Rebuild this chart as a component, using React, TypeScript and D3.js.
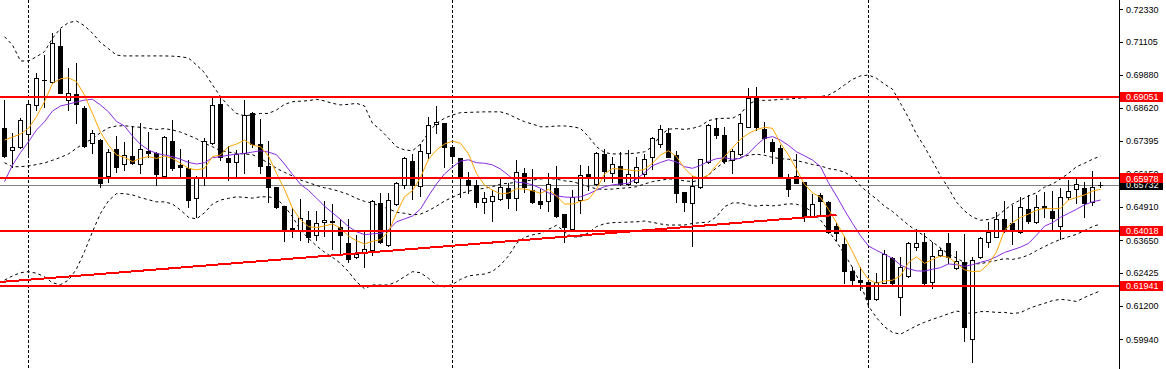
import React from 'react';
import * as d3 from 'd3';

const OPEN = [0.6788,0.6704,0.6717,0.6764,0.6874,0.6966,0.6959,0.7095,0.6892,0.6914,
0.6864,0.6730,0.6742,0.6608,0.6708,0.6651,0.6682,0.6651,0.6701,0.6692,
0.6608,0.6738,0.6648,0.6638,0.6523,0.6604,0.6730,0.6876,0.6676,0.6658,
0.6692,0.6842,0.6727,0.6646,0.6565,0.6494,0.6413,0.6404,0.6442,0.6384,
0.6433,0.6439,0.6417,0.6354,0.6302,0.6317,0.6329,0.6507,0.6348,0.6501,
0.6573,0.6663,0.6569,0.6695,0.6801,0.6807,0.6717,0.6675,0.6592,0.6573,
0.6508,0.6513,0.6520,0.6561,0.6523,0.6617,0.6554,0.6513,0.6514,0.6561,
0.6464,0.6408,0.6517,0.6615,0.6577,0.6690,0.6617,0.6645,0.6576,0.6586,
0.6613,0.6677,0.6727,0.6767,0.6686,0.6546,0.6504,0.6565,0.6661,0.6787,
0.6761,0.6667,0.6689,0.6792,0.6901,0.6784,0.6734,0.6711,0.6596,0.6607,
0.6586,0.6457,0.6536,0.6510,0.6420,0.6352,0.6250,0.6216,0.6208,0.6145,
0.6206,0.6298,0.6152,0.6232,0.6342,0.6358,0.6210,0.6310,0.6354,0.6263,
0.6283,0.5994,0.6302,0.6360,0.6379,0.6446,0.6429,0.6396,0.6482,0.6433,
0.6494,0.6476,0.6420,0.6529,0.6557,0.6561,0.6510,0.6574];

const HIGH = [0.6892,0.6767,0.6825,0.6892,0.6995,0.7061,0.7143,0.7158,0.7011,0.7030,
0.6870,0.6780,0.6746,0.6708,0.6757,0.6736,0.6795,0.6805,0.6771,0.6698,
0.6757,0.6817,0.6708,0.6667,0.6607,0.6749,0.6905,0.6907,0.6721,0.6705,
0.6892,0.6848,0.6821,0.6738,0.6567,0.6494,0.6486,0.6520,0.6477,0.6476,
0.6513,0.6501,0.6446,0.6446,0.6386,0.6398,0.6517,0.6544,0.6544,0.6586,
0.6680,0.6689,0.6726,0.6827,0.6870,0.6807,0.6717,0.6675,0.6621,0.6592,
0.6548,0.6554,0.6595,0.6582,0.6667,0.6638,0.6633,0.6557,0.6617,0.6645,
0.6464,0.6554,0.6648,0.6645,0.6697,0.6707,0.6680,0.6696,0.6705,0.6680,
0.6690,0.6755,0.6798,0.6788,0.6702,0.6546,0.6608,0.6670,0.6802,0.6824,
0.6792,0.6707,0.6839,0.6939,0.6942,0.6809,0.6746,0.6723,0.6613,0.6690,
0.6586,0.6538,0.6544,0.6513,0.6432,0.6382,0.6266,0.6266,0.6208,0.6244,
0.6329,0.6304,0.6304,0.6358,0.6407,0.6392,0.6358,0.6335,0.6394,0.6324,
0.6388,0.6304,0.6377,0.6435,0.6473,0.6513,0.6498,0.6529,0.6536,0.6536,
0.6548,0.6552,0.6563,0.6592,0.6596,0.6586,0.6626,0.6586];

const LOW = [0.6678,0.6642,0.6712,0.6686,0.6855,0.6867,0.6955,0.6918,0.6855,0.6807,
0.6717,0.6692,0.6565,0.6586,0.6623,0.6630,0.6651,0.6617,0.6680,0.6573,
0.6604,0.6630,0.6598,0.6492,0.6454,0.6573,0.6727,0.6667,0.6592,0.6604,
0.6619,0.6717,0.6619,0.6510,0.6486,0.6364,0.6377,0.6367,0.6360,0.6367,
0.6382,0.6332,0.6317,0.6285,0.6298,0.6266,0.6310,0.6354,0.6345,0.6498,
0.6563,0.6521,0.6532,0.6673,0.6767,0.6640,0.6655,0.6527,0.6544,0.6492,
0.6467,0.6439,0.6517,0.6486,0.6479,0.6548,0.6504,0.6486,0.6477,0.6454,
0.6360,0.6404,0.6467,0.6554,0.6573,0.6588,0.6586,0.6573,0.6573,0.6582,
0.6604,0.6632,0.6717,0.6677,0.6510,0.6477,0.6344,0.6561,0.6657,0.6749,
0.6655,0.6619,0.6686,0.6790,0.6780,0.6698,0.6655,0.6602,0.6533,0.6580,
0.6439,0.6454,0.6457,0.6392,0.6367,0.6204,0.6198,0.6179,0.6123,0.6141,
0.6204,0.6198,0.6085,0.6229,0.6329,0.6198,0.6185,0.6307,0.6279,0.6259,
0.5989,0.5910,0.6298,0.6342,0.6377,0.6398,0.6351,0.6392,0.6429,0.6429,
0.6454,0.6404,0.6369,0.6521,0.6504,0.6452,0.6498,0.6565];

const CLOSE = [0.6683,0.6716,0.6817,0.6876,0.6974,0.6968,0.7105,0.6920,0.6918,0.6876,
0.6721,0.6767,0.6580,0.6696,0.6642,0.6686,0.6657,0.6707,0.6692,0.6613,
0.6755,0.6638,0.6642,0.6517,0.6604,0.6740,0.6874,0.6677,0.6658,0.6690,
0.6836,0.6726,0.6646,0.6567,0.6492,0.6404,0.6404,0.6448,0.6377,0.6429,
0.6441,0.6433,0.6384,0.6294,0.6313,0.6332,0.6513,0.6360,0.6517,0.6580,
0.6675,0.6573,0.6701,0.6798,0.6809,0.6715,0.6683,0.6604,0.6573,0.6510,
0.6523,0.6532,0.6565,0.6523,0.6623,0.6565,0.6510,0.6501,0.6576,0.6457,
0.6417,0.6529,0.6611,0.6602,0.6692,0.6627,0.6652,0.6577,0.6613,0.6640,
0.6670,0.6749,0.6782,0.6680,0.6544,0.6508,0.6571,0.6670,0.6797,0.6762,
0.6664,0.6702,0.6805,0.6899,0.6790,0.6749,0.6702,0.6604,0.6557,0.6582,
0.6457,0.6502,0.6514,0.6398,0.6392,0.6251,0.6216,0.6210,0.6145,0.6210,
0.6313,0.6206,0.6266,0.6354,0.6354,0.6206,0.6307,0.6329,0.6302,0.6289,
0.6041,0.6292,0.6373,0.6396,0.6446,0.6404,0.6404,0.6492,0.6438,0.6492,
0.6486,0.6451,0.6527,0.6551,0.6577,0.6504,0.6565,0.6573];

const MA_FAST = [0.6742,0.6753,0.6765,0.6786,0.6830,0.6886,0.6955,0.6972,0.6976,0.6961,
0.6911,0.6842,0.6771,0.6723,0.6686,0.6677,0.6661,0.6673,0.6680,0.6673,
0.6682,0.6673,0.6655,0.6636,0.6630,0.6636,0.6680,0.6686,0.6717,0.6727,
0.6742,0.6723,0.6717,0.6682,0.6617,0.6557,0.6486,0.6442,0.6417,0.6413,
0.6420,0.6427,0.6411,0.6382,0.6364,0.6352,0.6362,0.6368,0.6398,0.6467,
0.6529,0.6552,0.6602,0.6670,0.6705,0.6727,0.6738,0.6730,0.6690,0.6617,
0.6573,0.6554,0.6540,0.6543,0.6559,0.6558,0.6552,0.6542,0.6557,0.6532,
0.6502,0.6502,0.6512,0.6520,0.6557,0.6615,0.6635,0.6633,0.6630,0.6626,
0.6632,0.6655,0.6686,0.6702,0.6680,0.6636,0.6607,0.6598,0.6611,0.6648,
0.6680,0.6713,0.6745,0.6767,0.6781,0.6790,0.6786,0.6730,0.6686,0.6632,
0.6576,0.6544,0.6527,0.6482,0.6432,0.6379,0.6323,0.6261,0.6219,0.6204,
0.6213,0.6216,0.6232,0.6282,0.6304,0.6279,0.6294,0.6307,0.6302,0.6279,
0.6255,0.6248,0.6250,0.6277,0.6322,0.6404,0.6432,0.6452,0.6464,0.6479,
0.6486,0.6484,0.6486,0.6517,0.6527,0.6536,0.6551,0.6557];

const MA_SLOW = [0.6586,0.6648,0.6695,0.6736,0.6780,0.6811,0.6851,0.6870,0.6877,0.6885,
0.6892,0.6895,0.6874,0.6848,0.6812,0.6795,0.6757,0.6726,0.6705,0.6692,
0.6686,0.6680,0.6670,0.6658,0.6652,0.6657,0.6676,0.6680,0.6685,0.6689,
0.6692,0.6697,0.6702,0.6697,0.6687,0.6652,0.6613,0.6576,0.6553,0.6524,
0.6494,0.6469,0.6444,0.6417,0.6398,0.6387,0.6390,0.6392,0.6405,0.6435,
0.6446,0.6457,0.6483,0.6532,0.6577,0.6615,0.6641,0.6663,0.6668,0.6657,
0.6655,0.6649,0.6633,0.6610,0.6584,0.6581,0.6574,0.6561,0.6544,0.6533,
0.6528,0.6527,0.6529,0.6540,0.6554,0.6567,0.6574,0.6577,0.6580,0.6596,
0.6619,0.6646,0.6658,0.6668,0.6660,0.6642,0.6636,0.6647,0.6662,0.6672,
0.6676,0.6670,0.6673,0.6692,0.6723,0.6749,0.6755,0.6742,0.6722,0.6698,
0.6683,0.6667,0.6642,0.6582,0.6532,0.6479,0.6429,0.6383,0.6344,0.6328,
0.6313,0.6298,0.6273,0.6259,0.6251,0.6250,0.6257,0.6263,0.6277,0.6274,
0.6268,0.6274,0.6283,0.6291,0.6304,0.6320,0.6330,0.6340,0.6354,0.6385,
0.6419,0.6432,0.6452,0.6467,0.6482,0.6499,0.6510,0.6517];

const BB_UPPER = [0.7130,0.7099,0.7039,0.7039,0.7055,0.7074,0.7124,0.7162,0.7183,0.7189,
0.7171,0.7143,0.7108,0.7085,0.7061,0.7058,0.7058,0.7058,0.7058,0.7058,
0.7058,0.7057,0.7055,0.7050,0.7024,0.6995,0.6949,0.6905,0.6870,0.6842,
0.6833,0.6837,0.6842,0.6842,0.6855,0.6876,0.6886,0.6888,0.6890,0.6895,
0.6889,0.6880,0.6874,0.6876,0.6880,0.6870,0.6805,0.6780,0.6749,0.6717,
0.6705,0.6702,0.6727,0.6770,0.6805,0.6824,0.6836,0.6845,0.6846,0.6847,
0.6848,0.6848,0.6848,0.6839,0.6824,0.6811,0.6802,0.6792,0.6792,0.6795,
0.6795,0.6792,0.6786,0.6755,0.6717,0.6695,0.6690,0.6690,0.6691,0.6693,
0.6698,0.6717,0.6761,0.6783,0.6785,0.6782,0.6786,0.6795,0.6815,0.6822,
0.6824,0.6824,0.6840,0.6877,0.6891,0.6891,0.6892,0.6895,0.6896,0.6899,
0.6900,0.6903,0.6905,0.6911,0.6927,0.6949,0.6970,0.6983,0.6986,0.6974,
0.6952,0.6933,0.6880,0.6826,0.6764,0.6717,0.6663,0.6608,0.6561,0.6509,
0.6476,0.6453,0.6441,0.6444,0.6454,0.6479,0.6502,0.6517,0.6532,0.6544,
0.6565,0.6577,0.6596,0.6617,0.6642,0.6655,0.6670,0.6682];

const BB_MIDDLE = [0.6657,0.6642,0.6642,0.6645,0.6650,0.6656,0.6666,0.6677,0.6690,0.6711,
0.6732,0.6746,0.6770,0.6788,0.6795,0.6796,0.6792,0.6790,0.6786,0.6782,
0.6785,0.6780,0.6772,0.6760,0.6747,0.6730,0.6717,0.6702,0.6697,0.6692,
0.6690,0.6687,0.6673,0.6655,0.6636,0.6621,0.6607,0.6592,0.6582,0.6572,
0.6563,0.6557,0.6548,0.6538,0.6523,0.6512,0.6505,0.6494,0.6484,0.6471,
0.6467,0.6461,0.6464,0.6477,0.6494,0.6513,0.6527,0.6541,0.6550,0.6557,
0.6561,0.6567,0.6577,0.6580,0.6583,0.6588,0.6592,0.6596,0.6598,0.6595,
0.6589,0.6586,0.6577,0.6567,0.6559,0.6557,0.6558,0.6561,0.6563,0.6567,
0.6577,0.6586,0.6591,0.6596,0.6595,0.6589,0.6586,0.6592,0.6611,0.6638,
0.6660,0.6667,0.6677,0.6685,0.6689,0.6685,0.6677,0.6672,0.6670,0.6665,
0.6658,0.6650,0.6645,0.6635,0.6630,0.6622,0.6603,0.6570,0.6543,0.6521,
0.6494,0.6474,0.6448,0.6423,0.6401,0.6382,0.6359,0.6337,0.6314,0.6299,
0.6282,0.6277,0.6278,0.6284,0.6290,0.6297,0.6294,0.6300,0.6310,0.6327,
0.6342,0.6357,0.6369,0.6379,0.6388,0.6402,0.6417,0.6427];

const BB_LOWER = [0.6216,0.6232,0.6244,0.6248,0.6242,0.6229,0.6206,0.6199,0.6216,0.6258,
0.6323,0.6398,0.6467,0.6514,0.6541,0.6541,0.6536,0.6526,0.6518,0.6510,
0.6510,0.6502,0.6479,0.6452,0.6446,0.6469,0.6502,0.6517,0.6523,0.6529,
0.6527,0.6524,0.6529,0.6529,0.6522,0.6494,0.6454,0.6404,0.6373,0.6345,
0.6321,0.6302,0.6279,0.6248,0.6210,0.6184,0.6198,0.6198,0.6198,0.6210,
0.6229,0.6248,0.6244,0.6223,0.6198,0.6191,0.6200,0.6219,0.6232,0.6236,
0.6239,0.6249,0.6273,0.6307,0.6354,0.6377,0.6386,0.6392,0.6407,0.6422,
0.6398,0.6378,0.6379,0.6394,0.6417,0.6428,0.6432,0.6433,0.6434,0.6435,
0.6438,0.6433,0.6427,0.6423,0.6423,0.6423,0.6429,0.6432,0.6434,0.6454,
0.6492,0.6506,0.6506,0.6498,0.6494,0.6498,0.6495,0.6498,0.6503,0.6501,
0.6492,0.6471,0.6442,0.6401,0.6360,0.6314,0.6263,0.6204,0.6119,0.6075,
0.6041,0.6020,0.6013,0.6029,0.6045,0.6058,0.6069,0.6079,0.6090,0.6100,
0.6094,0.6091,0.6098,0.6098,0.6095,0.6095,0.6091,0.6094,0.6109,0.6120,
0.6129,0.6139,0.6144,0.6141,0.6136,0.6151,0.6164,0.6176];

const LEVELS = [0.69051, 0.65978, 0.64018, 0.61941];
const BID = 0.65732;
const AXIS_TICKS = [0.72330, 0.71105, 0.69880, 0.68620, 0.67395, 0.66150, 0.64910, 0.63650, 0.62425, 0.61200, 0.59940];
const SEPARATORS = [3, 56, 108];
const TREND_IDX = [-1, 104];
const TREND_PRICE = [0.6208, 0.6461];

const W = 1166;
const H = 369;
const AXIS_X = 1119;

export default function App() {
  const n = OPEN.length;
  const x = d3.scaleLinear().domain([0, n - 1]).range([4.5, 4.5 + 8 * (n - 1)]);
  const y = d3.scaleLinear().domain([0.5994, 0.7233]).range([339.3, 9.3]);
  const line = d3.line<number>().x((_, i) => x(i)).y((v) => y(v));
  const r = (v: number) => Math.round(v);

  const candles = OPEN.map((o, i) => {
    const c = CLOSE[i];
    const cx = r(x(i) - 0.5) + 0.5;
    const top = r(y(Math.max(o, c)));
    const bot = r(y(Math.min(o, c)));
    const bull = c >= o;
    const hi = r(y(HIGH[i]));
    const lo = r(y(LOW[i]));
    return (
      <g key={i}>
        <line x1={cx} x2={cx} y1={hi} y2={lo + 1} stroke="#000" strokeWidth={1} />
        {bot - top >= 1 ? (
          <rect x={cx - 2} y={top + 0.5} width={4} height={bot - top} fill={bull ? '#fff' : '#000'} stroke="#000" strokeWidth={1} />
        ) : (
          <line x1={cx - 2.5} x2={cx + 2.5} y1={top + 0.5} y2={top + 0.5} stroke="#000" strokeWidth={1} />
        )}
      </g>
    );
  });

  const font = "'Liberation Sans', Arial, sans-serif";
  const boxLabel = (v: number, bg: string, key: string) => {
    const yy = y(v);
    return (
      <g key={key}>
        <rect x={AXIS_X + 1} y={r(yy) - 5} width={43} height={10} fill={bg} />
        <text x={AXIS_X + 7} y={yy + 3.3} fontSize={9} fontFamily={font} fill="#fff">{v.toFixed(5)}</text>
      </g>
    );
  };

  return (
    <svg width={W} height={H} style={{ position: 'absolute', left: 0, top: 0, background: '#fff' }}>
      <defs>
        <clipPath id="plot">
          <rect x={0} y={0} width={AXIS_X} height={H} />
        </clipPath>
      </defs>
      <rect x={0} y={0} width={W} height={H} fill="#fff" />
      <g clipPath="url(#plot)">
        {SEPARATORS.map((s) => (
          <line key={s} x1={r(x(s) - 0.5) + 0.5} x2={r(x(s) - 0.5) + 0.5} y1={0} y2={H} stroke="#000" strokeWidth={1} strokeDasharray="3,2" />
        ))}
        <line x1={0} x2={AXIS_X} y1={r(y(BID)) + 0.5} y2={r(y(BID)) + 0.5} stroke="#808080" strokeWidth={1} />
        {[BB_UPPER, BB_MIDDLE, BB_LOWER].map((s, k) => (
          <path key={k} d={line(s) || ''} fill="none" stroke="#000" strokeWidth={1} strokeDasharray="3,3" />
        ))}
        {candles}
        <path d={line(MA_SLOW) || ''} fill="none" stroke="#8A2BE2" strokeWidth={1} />
        <path d={line(MA_FAST) || ''} fill="none" stroke="#FFA500" strokeWidth={1} />
        {LEVELS.map((v) => (
          <line key={v} x1={0} x2={AXIS_X} y1={r(y(v))} y2={r(y(v))} stroke="#FF0000" strokeWidth={2} />
        ))}
        <line x1={x(TREND_IDX[0])} y1={y(TREND_PRICE[0])} x2={x(TREND_IDX[1])} y2={y(TREND_PRICE[1])} stroke="#FF0000" strokeWidth={2} shapeRendering="crispEdges" />
      </g>
      <line x1={AXIS_X + 0.5} x2={AXIS_X + 0.5} y1={0} y2={H} stroke="#000" strokeWidth={1} />
      {AXIS_TICKS.map((v) => (
        <g key={v}>
          <line x1={AXIS_X} x2={AXIS_X + 4} y1={r(y(v)) + 0.5} y2={r(y(v)) + 0.5} stroke="#000" strokeWidth={1} />
          <text x={AXIS_X + 7} y={y(v) + 3.3} fontSize={9} fontFamily={font} fill="#000">{v.toFixed(5)}</text>
        </g>
      ))}
      {boxLabel(BID, '#000', 'bid')}
      {LEVELS.map((v) => boxLabel(v, '#FF0000', 'l' + v))}
    </svg>
  );
}
